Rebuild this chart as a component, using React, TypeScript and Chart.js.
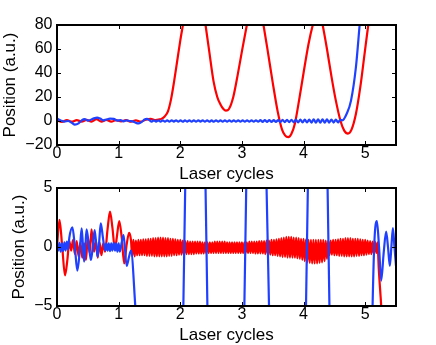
import { useEffect, useRef } from "react";
import { Chart, registerables } from "chart.js";

Chart.register(...registerables);

// ---------- axes ----------
const xTicks = [0, 1, 2, 3, 4, 5];
const topYTicks = [-20, 0, 20, 40, 60, 80];
const botYTicks = [-5, 0, 5];
const xLabel = "Laser cycles";
const yLabel = "Position (a.u.)";

// ---------- top panel: red ----------
const topRedX = [0, 0.08, 0.16, 0.24, 0.32, 0.4, 0.48, 0.56, 0.64, 0.72, 0.8, 0.88, 0.96, 1.04, 1.12, 1.2, 1.28, 1.36, 1.44, 1.52, 1.6, 1.65,
  1.7, 1.75, 1.8, 1.85, 1.9, 1.95, 2.0, 2.05, 2.1, 2.17, 2.24, 2.3, 2.36, 2.41, 2.47, 2.54, 2.6, 2.65, 2.7, 2.74, 2.79, 2.86, 2.93, 3.0,
  3.08, 3.15, 3.22, 3.29, 3.35, 3.42, 3.5, 3.58, 3.65, 3.7, 3.75, 3.8, 3.86, 3.93, 4.0, 4.08, 4.15, 4.2, 4.24, 4.28, 4.31, 4.38, 4.45,
  4.52, 4.6, 4.66, 4.72, 4.78, 4.85, 4.92, 4.99, 5.05, 5.1, 5.2, 5.3];
const topRedY = [0.5, -0.8, 0.8, -0.6, 0.7, -0.5, 1.0, -0.6, 1.5, -0.5, 0.9, -0.6, 0.8, -0.4, 0.7, -0.6, 0.5, -0.5, 1.0, 1.8, 0.8, 1.2,
  2, 4, 8, 18, 33, 50, 67, 82, 97, 115, 122, 116, 100, 80, 58, 33, 20, 14, 10, 8.6, 10, 20, 38, 58,
  80, 98, 104, 97, 80, 58, 32, 8, -7, -12, -13.5, -11, -2, 18, 40, 64, 80, 88, 90, 87, 80, 60, 38,
  18, 0, -8, -10.5, -7, 6, 28, 56, 80, 98, 125, 140];

// ---------- top panel: blue ----------
const topBlueHeadX = [0, 0.06, 0.12, 0.18, 0.24, 0.29, 0.35, 0.4, 0.45, 0.5, 0.55, 0.6, 0.65, 0.7, 0.75, 0.8, 0.86, 0.92, 0.98, 1.03,
  1.08, 1.13, 1.18, 1.24, 1.29, 1.33, 1.38, 1.42, 1.46];
const topBlueHeadY = [2, 0.5, -0.5, 0, -1.5, -3, -2, 0.5, 1.5, 0.3, 1, 2.2, 2.8, 2, 0.5, 1.2, 2, 1.8, 0.3, 0.8,
  -0.3, 0.6, 0, -0.5, -1.8, -2, -0.5, 1.2, 1.7];
const topBlueWiggleStart = 1.5;
const topBlueWiggleStep = 0.036;
const topBlueWiggleY = [
  0.7, -0.6, 0.6, -0.6, 0.6, -0.6, 0.6, -0.6, 0.6, -0.6,
  0.6, -0.5, 0.6, -0.6, 0.6, -0.6, 0.5, -0.5, 0.6, -0.6,
  0.6, -0.6, 0.6, -0.5, 0.6, -0.6, 0.6, -0.6, 0.5, -0.6,
  0.6, -0.6, 0.6, -0.6, 0.6, -0.6, 0.6, -0.6, 0.6, -0.6,
  0.6, -0.6, 0.6, -0.6, 0.6, -0.6, 0.6, -0.6, 0.6, -0.6,
  0.7, -0.7, 0.7, -0.7, 0.7, -0.7,
  0.8, -0.8, 0.8, -0.9, 0.9, -0.9, 1.0, -1.0, 1.0, -1.1, 1.1, -1.1, 1.1, -1.2,
  1.2, -1.2, 1.2, -1.3, 1.3, -1.3, 1.3, -1.3, 1.3, -1.3, 1.3, -1.3, 1.2, -1.3, 1.2, -1.2, 1.0];
const topBlueTailX = [4.63, 4.7, 4.77, 4.85, 4.91, 4.97, 5.05];
const topBlueTailY = [0.5, 6, 17, 45, 80, 115, 160];

// ---------- bottom panel: red ----------
const botRedHeadX = [0, 0.04, 0.085, 0.13, 0.17, 0.2, 0.23, 0.26, 0.29, 0.32, 0.35, 0.38, 0.41, 0.44, 0.47, 0.5, 0.53, 0.56, 0.6, 0.63,
  0.66, 0.69, 0.72, 0.75, 0.78, 0.82, 0.86, 0.9, 0.94, 0.97, 1.01, 1.05, 1.09, 1.13, 1.17];
const botRedHeadY = [0, 2.3, 0, -2.4, -1.0, 0.5, -0.3, 0.6, -0.6, 0.5, -0.8, 0.4, -0.9, 0.3, -1.1, 0.8, -0.5, 1.5, -0.4, 0.6,
  -0.9, 0.4, -0.7, 0.3, -0.4, 1.5, 3.0, 1.6, -0.2, 0.8, 2.2, 0.8, -1.4, 0.2, 1.2];
const botRedBandStart = 1.2;
const botRedBandStep = 0.02;
const botRedBandY = [
  0.6, -0.8, 0.6, -0.8, 0.55,
  -0.7, 0.6, -0.7, 0.6, -0.7, 0.65, -0.7, 0.65, -0.75, 0.7,
  -0.75, 0.7, -0.75, 0.75, -0.8, 0.75, -0.8, 0.8, -0.8, 0.8, -0.8, 0.8, -0.8, 0.75, -0.8, 0.75, -0.75, 0.7, -0.75, 0.7,
  -0.7, 0.65, -0.7, 0.6, -0.65, 0.6, -0.65, 0.55, -0.65, 0.5,
  -0.6, 0.5, -0.6, 0.45, -0.6, 0.45, -0.6, 0.45, -0.55, 0.45, -0.55, 0.45, -0.55, 0.4, -0.55,
  0.4, -0.5, 0.4, -0.5, 0.4, -0.5, 0.4, -0.5, 0.45, -0.5, 0.45, -0.5, 0.45, -0.5, 0.45, -0.5, 0.45, -0.5, 0.4, -0.5,
  0.4, -0.5, 0.4, -0.5, 0.4, -0.5, 0.4, -0.5, 0.4, -0.5,
  0.4, -0.5, 0.4, -0.5, 0.4, -0.5, 0.45, -0.5, 0.45, -0.5, 0.45, -0.55, 0.45, -0.55, 0.5, -0.55, 0.5, -0.55, 0.5, -0.6,
  0.55, -0.6, 0.55, -0.65, 0.6, -0.7, 0.6, -0.7, 0.65, -0.75,
  0.7, -0.8, 0.75, -0.85, 0.8, -0.85, 0.85, -0.9, 0.85, -0.9, 0.85, -0.9, 0.8, -0.9, 0.8,
  -0.95, 0.75, -1.0, 0.7, -1.1, 0.7, -1.2,
  0.65, -1.3, 0.6, -1.35, 0.6, -1.4, 0.6, -1.4, 0.6, -1.4, 0.6, -1.35, 0.6, -1.3, 0.6, -1.2, 0.55, -1.0,
  0.55, -0.7, 0.55, -0.65, 0.6, -0.7, 0.6, -0.7, 0.65, -0.75,
  0.7, -0.75, 0.7, -0.8, 0.75, -0.8, 0.75, -0.8, 0.75, -0.8, 0.7, -0.8, 0.7, -0.75, 0.7,
  -0.75, 0.65, -0.7, 0.6, -0.7, 0.6, -0.65, 0.55, -0.6, 0.5,
  -0.6, 0.45, -0.55, 0.45, -0.5, 0.4];
const botRedTailX = [5.22, 5.26, 5.3, 5.4];
const botRedTailY = [-1.8, -5, -9, -18];

// ---------- bottom panel: blue ----------
const botBlueX = [0, 0.02, 0.04, 0.06, 0.08, 0.1, 0.12, 0.14, 0.16, 0.18, 0.2, 0.25, 0.29, 0.33, 0.37, 0.4, 0.42, 0.44, 0.46, 0.48,
  0.515, 0.55, 0.58, 0.61, 0.635, 0.66, 0.685, 0.71, 0.745, 0.78, 0.8, 0.82, 0.84, 0.86, 0.88, 0.9, 0.92, 0.94, 0.96, 0.98,
  1.0, 1.02, 1.05, 1.08, 1.13, 1.17, 1.2, 1.27, 1.35, 1.5, 1.7, 1.9, 2.02, 2.05, 2.08, 2.11, 2.2, 2.25, 2.3, 2.38,
  2.41, 2.44, 2.47, 2.6, 2.75, 2.9, 3.01, 3.04, 3.07, 3.1, 3.25, 3.37, 3.4, 3.44, 3.47, 3.6, 3.75, 3.9, 4.01, 4.04,
  4.07, 4.1, 4.23, 4.36, 4.39, 4.42, 4.45, 4.6, 4.8, 5.0, 5.09, 5.12, 5.15, 5.19, 5.225, 5.26, 5.3, 5.34, 5.37, 5.4,
  5.425, 5.45, 5.475, 5.5];
const botBlueY = [0.3, -0.3, 0.35, -0.4, 0.3, -0.35, 0.4, -0.3, 0.45, -0.2, 0.8, 1.67, 0, -2.0, -0.3, 1.58, 0.2, -1.24, 0, 1.5,
  0.2, -1.1, 0, 1.44, 0.3, -0.82, 0.5, 2.0, 0.8, -0.3, 0.3, -0.3, 0.3, -0.35, 0.3, -0.3, 0.35, -0.3, 0.3, -0.4,
  0.3, -0.4, 0.4, 1.0, -1.6, -0.8, -0.3, -5, -12, -28, -40, -25, -14, -5, 5, 14, 32, 36, 32, 14,
  5, -5, -14, -36, -42, -36, -14, -5, 5, 14, 36, 14, 5, -5, -14, -36, -42, -36, -14, -5,
  5, 14, 34, 14, 5, -5, -14, -38, -45, -34, -14, -5, 0.5, 2.2, 0, -2.85, -0.5, 1.3, 0, -1.6,
  0, 1.6, 0, -1.6];

const RED = "#ff0000";
const BLUE = "#2040ff";
const LINE_WIDTH = 2.2;
const FONT_FAMILY = "'Liberation Sans', Arial, Helvetica, sans-serif";

type Pt = { x: number; y: number };
const pts = (xs: number[], ys: number[]): Pt[] => xs.map((x, i) => ({ x, y: ys[i] }));
const sampled = (start: number, step: number, ys: number[]): Pt[] =>
  ys.map((y, i) => ({ x: Math.round((start + step * i) * 10000) / 10000, y }));

const fmt = (v: number | string) => String(v).replace("-", "\u2212");

const boxPlugin = {
  id: "matlabBox",
  afterDatasetsDraw(chart: any) {
    const { ctx, chartArea, scales } = chart;
    const { left, right, top, bottom } = chartArea;
    const tl = 4;
    ctx.save();
    ctx.strokeStyle = "#000";
    ctx.lineWidth = 1;
    ctx.beginPath();
    for (const t of scales.x.ticks) {
      const px = Math.round(scales.x.getPixelForValue(t.value)) + 0.5;
      ctx.moveTo(px, bottom);
      ctx.lineTo(px, bottom - tl);
      ctx.moveTo(px, top);
      ctx.lineTo(px, top + tl);
    }
    for (const t of scales.y.ticks) {
      const py = Math.round(scales.y.getPixelForValue(t.value)) + 0.5;
      ctx.moveTo(left, py);
      ctx.lineTo(left + tl, py);
      ctx.moveTo(right, py);
      ctx.lineTo(right - tl, py);
    }
    ctx.stroke();
    ctx.lineWidth = 2;
    ctx.strokeRect(left, top, right - left, bottom - top);
    ctx.restore();
  },
};

type PanelProps = {
  datasets: any[];
  yMin: number;
  yMax: number;
  yTicks: number[];
  padTop: number;
  padBottom: number;
  xHeight: number;
  yTitlePad: number;
  xTitlePad: number;
};

function Panel(props: PanelProps) {
  const ref = useRef<HTMLCanvasElement | null>(null);
  useEffect(() => {
    if (!ref.current) return;
    const tickFont = { family: FONT_FAMILY, size: 16 };
    const titleFont = { family: FONT_FAMILY, size: 17 };
    const chart = new Chart(ref.current, {
      type: "line",
      data: { datasets: props.datasets },
      options: {
        animation: false,
        responsive: false,
        devicePixelRatio: 1,
        events: [],
        layout: { padding: { top: props.padTop, bottom: props.padBottom, left: 0, right: 40 } },
        plugins: { legend: { display: false }, tooltip: { enabled: false } },
        elements: { point: { radius: 0 } },
        scales: {
          x: {
            type: "linear",
            min: 0,
            max: 5.5,
            afterBuildTicks: (s: any) => {
              s.ticks = xTicks.map((value) => ({ value }));
            },
            afterFit: (s: any) => {
              s.height = props.xHeight;
            },
            grid: { display: false, drawTicks: false },
            border: { display: false },
            ticks: { padding: -1, font: tickFont, color: "#000", callback: fmt, maxRotation: 0, autoSkip: false },
            title: { display: true, text: xLabel, font: titleFont, color: "#000", padding: { top: 0, bottom: props.xTitlePad } },
          },
          y: {
            type: "linear",
            min: props.yMin,
            max: props.yMax,
            afterBuildTicks: (s: any) => {
              s.ticks = props.yTicks.map((value) => ({ value }));
            },
            afterFit: (s: any) => {
              s.width = 57;
            },
            grid: { display: false, drawTicks: false },
            border: { display: false },
            ticks: { padding: 4.5, font: tickFont, color: "#000", callback: fmt, autoSkip: false },
            title: { display: true, text: yLabel, font: titleFont, color: "#000", padding: { top: props.yTitlePad, bottom: 0 } },
          },
        },
      } as any,
      plugins: [boxPlugin],
    });
    return () => chart.destroy();
  }, []);
  return (
    <canvas
      ref={ref}
      width={436}
      height={345}
      style={{ position: "absolute", left: 0, top: 0, width: 436, height: 345 }}
    />
  );
}

const line = (data: Pt[], color: string) => ({
  data,
  borderColor: color,
  backgroundColor: color,
  borderWidth: LINE_WIDTH,
  pointRadius: 0,
  fill: false,
  cubicInterpolationMode: "monotone",
});

export default function App() {
  const topDatasets = [
    line(
      [
        ...pts(topBlueHeadX, topBlueHeadY),
        ...sampled(topBlueWiggleStart, topBlueWiggleStep, topBlueWiggleY),
        ...pts(topBlueTailX, topBlueTailY),
      ],
      BLUE
    ),
    line(pts(topRedX, topRedY), RED),
  ];
  const botDatasets = [
    line(pts(botBlueX, botBlueY), BLUE),
    line(
      [
        ...pts(botRedHeadX, botRedHeadY),
        ...sampled(botRedBandStart, botRedBandStep, botRedBandY),
        ...pts(botRedTailX, botRedTailY),
      ],
      RED
    ),
  ];
  return (
    <div
      style={{
        position: "fixed",
        left: 0,
        top: 0,
        width: 436,
        height: 345,
        background: "#fff",
        overflow: "hidden",
      }}
    >
      <Panel
        datasets={topDatasets}
        yMin={-20}
        yMax={80}
        yTicks={topYTicks}
        padTop={25}
        padBottom={160}
        xHeight={40}
        yTitlePad={0}
        xTitlePad={0}
      />
      <Panel
        datasets={botDatasets}
        yMin={-5}
        yMax={5}
        yTicks={botYTicks}
        padTop={188}
        padBottom={0}
        xHeight={39}
        yTitlePad={9.6}
        xTitlePad={-1}
      />
    </div>
  );
}
